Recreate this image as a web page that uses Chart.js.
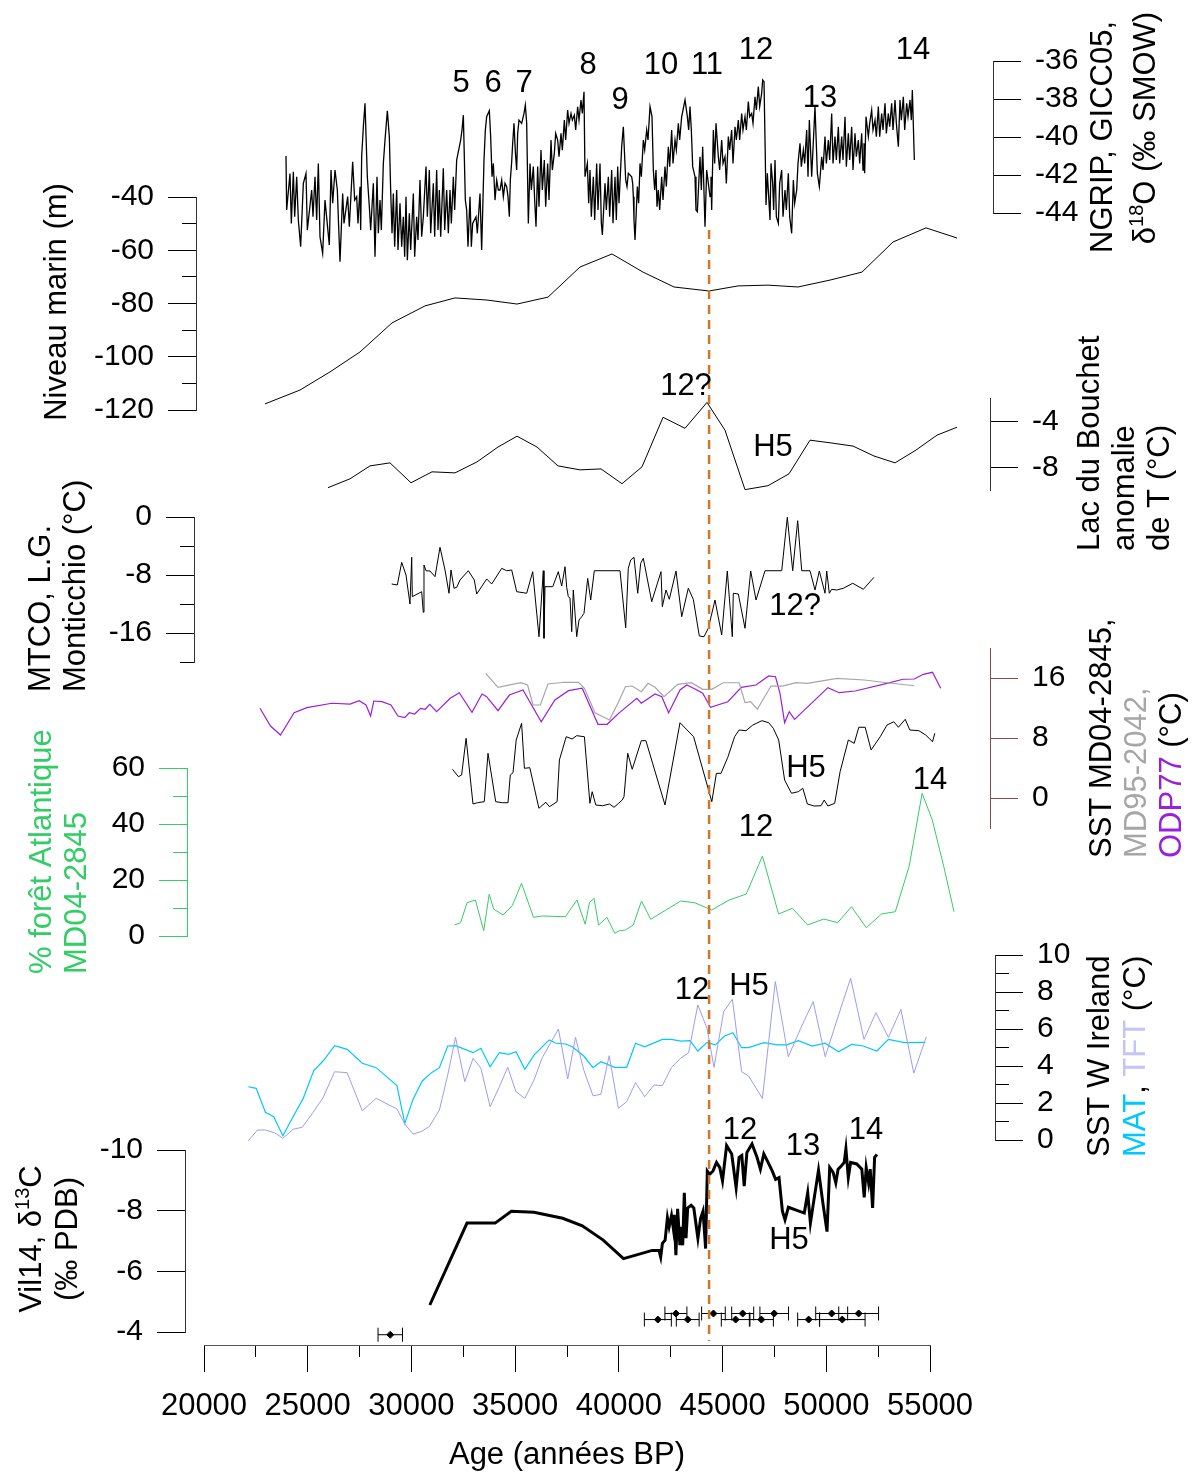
<!DOCTYPE html>
<html>
<head>
<meta charset="utf-8">
<title>Vil14 et enregistrements paléoclimatiques</title>
<script src="https://cdn.jsdelivr.net/npm/chart.js@4"></script>
<style>
  body { margin: 0; background: #fff; }
  canvas { display: block; }
</style>
</head>
<body>
<canvas id="myChart" width="1197" height="1474"></canvas>
<script>
// ---- data (ages in years BP) ----

let ngripAge = [
  23953, 23985, 24146, 24210, 24307, 24371, 24468, 24548, 24660, 24789, 24917, 24981, 25191, 25255, 25351, 25432,
  25512, 25592, 25721, 25833, 26042, 26123, 26203, 26316, 26428, 26492, 26557, 26685, 26749, 26926, 27007, 27167,
  27264, 27360, 27424, 27521, 27553, 27601, 27682, 27762, 27874, 27971, 28035, 28164, 28244, 28340, 28405, 28485,
  28549, 28646, 28726, 28839, 28935, 28999, 29064, 29128, 29192, 29289, 29353, 29449, 29530, 29610, 29674, 29738,
  29803, 29899, 29963, 30092, 30156, 30253, 30317, 30413, 30494, 30574, 30703, 30767, 30863, 30928, 31056, 31120,
  31217, 31281, 31345, 31410, 31538, 31603, 31699, 31779, 31860, 31924, 32020, 32085, 32181, 32294, 32374, 32438,
  32503, 32599, 32663, 32727, 32824, 32888, 32952, 33113, 33177, 33306, 33386, 33499, 33563, 33627, 33756, 33820,
  33885, 33949, 34029, 34110, 34190, 34270, 34351, 34431, 34511, 34592, 34656, 34720, 34768, 34833, 34881, 34945,
  35009, 35074, 35122, 35186, 35315, 35427, 35492, 35556, 35636, 35717, 35781, 35877, 35941, 36006, 36086, 36150,
  36247, 36311, 36407, 36472, 36568, 36632, 36729, 36793, 36889, 36954, 37050, 37115, 37211, 37275, 37372, 37436,
  37532, 37597, 37693, 37757, 37854, 37918, 38014, 38079, 38175, 38239, 38320,
  38368, 38481, 38545, 38609, 38673, 38770, 38834, 38931, 38995, 39091, 39155, 39204, 39332, 39396, 39493, 39557,
  39654, 39718, 39814, 39879, 39943, 40007, 40136, 40216, 40329, 40393, 40457, 40618, 40666, 40698, 40730, 40779,
  40891, 40955, 41020, 41084, 41180, 41245, 41341, 41405, 41502, 41598, 41662, 41727, 41791, 41839, 41903, 41968,
  42064, 42128, 42225, 42289, 42386, 42450, 42546, 42611, 42707, 42771, 42868, 42932, 43028, 43093, 43189, 43302,
  43366, 43430, 43494, 43559, 43671, 43719, 43784, 43912, 43976, 44041, 44153, 44234, 44394, 44442, 44475, 44555,
  44619, 44684, 44796, 44860, 44957, 45021, 45117, 45182, 45278, 45342, 45439, 45503, 45600, 45664, 45760, 45824,
  45921, 45985, 46082, 46146, 46242, 46306, 46403, 46467, 46564, 46628, 46724, 46789, 46885, 46933, 46998, 47062,
  47094, 47158, 47223, 47287, 47335, 47415, 47463, 47528, 47592, 47689, 47753, 47849, 47914, 48010, 48074, 48171,
  48235, 48331, 48412, 48476, 48573, 48637, 48733, 48797, 48894, 48958, 49055, 49119, 49183, 49296, 49456, 49569,
  49665, 49778, 49842, 49938, 50003, 50099, 50163, 50260, 50324, 50420, 50485, 50581, 50645, 50742, 50806, 50903,
  50967, 51063, 51127, 51224, 51288, 51384, 51449, 51545, 51609, 51706, 51770, 51818, 51850, 51915, 52027, 52092,
  52188, 52252, 52349, 52413, 52510, 52574, 52670, 52734, 52831, 52895, 52992, 53056, 53152, 53217, 53313, 53378,
  53474, 53554, 53618, 53715, 53779, 53876, 53940, 54036, 54100, 54149, 54245
];
let ngripD18O = [
  -41.0, -43.84, -41.92, -44.55, -41.83, -44.2, -42.09, -44.37, -45.77, -42.44, -41.92, -44.9, -42.79, -44.2, -42.09, -44.37,
  -41.39, -45.25, -46.12, -43.32, -45.69, -41.74, -43.49, -41.74, -42.79, -44.72, -46.56, -42.97, -44.55, -43.14, -44.72, -41.3,
  -43.32, -43.14, -44.55, -42.62, -44.9, -41.04, -39.46, -38.23, -42.09, -43.67, -44.9, -42.44, -46.3, -42.09, -45.07, -43.32,
  -44.9, -41.39, -40.16, -38.62, -39.99, -42.79, -45.07, -42.97, -45.77, -42.79, -45.95, -43.49, -45.77, -44.2, -46.3, -43.14,
  -46.48, -44.02, -45.95, -42.97, -46.3, -44.2, -45.42, -42.27, -45.25, -44.2, -41.56, -44.2, -41.74, -45.07, -42.44, -45.25,
  -41.74, -44.9, -42.79, -45.25, -41.65, -44.9, -42.79, -45.07, -42.79, -44.55, -42.09, -43.84, -41.21, -40.6, -40.16, -39.63,
  -38.85, -43.32, -43.84, -45.77, -43.14, -45.77, -44.55, -44.2, -45.07, -42.97, -45.95, -41.21, -39.63, -38.93, -38.62, -39.99,
  -42.09, -41.39, -43.32, -42.27, -42.79, -42.79, -42.27, -43.14, -42.44, -42.62, -43.14, -44.2, -42.27, -41.3, -40.34, -39.28,
  -40.77, -41.74, -39.81, -39.11, -39.28, -38.76, -38.32, -39.28, -44.55, -41.39, -42.79, -41.56, -43.32, -44.72, -41.56, -43.67,
  -40.69, -42.79, -41.21, -43.67, -41.39, -43.32, -40.16, -41.74, -40.86, -39.81, -40.16, -41.04, -39.81, -40.69, -39.11, -40.16,
  -38.58, -39.28, -38.76, -39.11, -38.85, -39.63, -38.41, -39.11, -38.06, -38.76, -37.62,
  -42.09, -41.39, -43.49, -41.74, -44.19, -42.09, -44.37, -41.39, -43.84, -41.39, -44.54, -45.16, -42.44, -43.84, -42.09, -44.19,
  -41.74, -44.54, -42.09, -44.37, -41.56, -43.49, -40.51, -39.46, -42.26, -42.61, -41.91, -42.09, -42.44, -43.14, -44.37, -45.42,
  -42.61, -43.49, -41.39, -42.09, -40.16, -40.68, -39.63, -40.16, -38.4, -38.93, -41.74, -42.79, -41.74, -43.67, -42.79, -43.84,
  -42.09, -43.32, -41.56, -42.61, -40.51, -41.56, -39.63, -41.39, -40.16, -40.68, -39.28, -40.16, -38.93, -38.58, -38.05, -38.93,
  -39.63, -38.4, -39.63, -41.56, -42.09, -43.84, -43.93, -41.04, -42.79, -40.51, -44.72, -41.74, -43.14, -42.09, -43.84, -39.63,
  -41.39, -39.28, -41.04, -41.74, -40.16, -41.39, -41.04, -42.44, -39.98, -40.68, -39.63, -41.39, -39.46, -40.16, -39.11, -40.16,
  -38.76, -39.63, -38.93, -39.63, -38.14, -38.93, -38.76, -39.28, -37.88, -38.58, -37.35, -38.4, -37.7, -37.0, -37.09, -41.21,
  -43.58, -41.91, -43.14, -44.37, -41.39, -42.44, -43.84, -41.21, -44.19, -44.54, -42.44, -41.74, -44.19, -42.79, -43.84, -41.91,
  -44.19, -45.07, -42.26, -43.49, -42.79, -41.39, -40.33, -41.56, -40.68, -41.39, -39.63, -42.09, -39.11, -42.09, -38.4, -41.91,
  -42.61, -41.04, -41.74, -39.98, -41.39, -40.16, -41.21, -38.76, -41.39, -39.98, -41.21, -39.46, -41.39, -39.98, -41.21, -38.93,
  -41.56, -39.81, -41.21, -39.46, -41.74, -39.81, -41.04, -40.16, -41.39, -39.81, -41.74, -40.33, -41.91, -38.93, -39.98, -39.28,
  -38.58, -39.63, -39.11, -39.98, -38.4, -39.98, -38.76, -39.63, -38.23, -39.81, -38.76, -39.46, -38.23, -39.63, -38.05, -39.28,
  -40.51, -38.05, -39.11, -37.88, -39.63, -38.23, -38.93, -38.05, -39.11, -37.53, -41.21
];

let seaAge = [22941, 24628, 26075, 27521, 29063, 30655, 32101, 33644, 35090, 36585, 38128, 39670,
  41164, 42659, 44346, 45744, 47190, 48637, 50180, 51722, 53217, 54808, 56302];
let seaLevel = [-117.7, -112.5, -105.7, -98.2, -87.3, -80.9, -77.9, -78.7, -80.2, -77.6, -66.3, -61.4,
  -68.2, -73.8, -75.3, -73.4, -73.1, -73.8, -71.2, -68.2, -56.9, -51.6, -55.4];

let bouchetAge = [25978, 27039, 28003, 28967, 29980, 30992, 32101, 33161, 34174, 35090, 36054, 37067, 38128,
  39140, 40152, 41116, 42129, 43190, 44250, 45118, 46082, 47190, 48203, 49215, 50276, 51288, 52301, 53314,
  54326, 55338, 56302];
let bouchetT = [-9.7, -8.94, -7.83, -7.57, -9.28, -8.34, -8.43, -7.49, -6.21, -5.28, -6.21, -7.83, -8.17,
  -8.09, -9.36, -7.91, -3.66, -4.6, -2.38, -4.77, -9.87, -9.53, -8.51, -5.62, -5.87, -6.13, -6.98, -7.57,
  -6.47, -5.19, -4.51];

let mtcoAge = [29049, 29319, 29531, 29738, 29931, 30013, 30042, 30495, 30572, 30606, 30703, 30895, 31137,
  31378, 31619, 31811, 31908, 32053, 32183, 32342, 32742, 33031, 33147, 33629, 33870, 34352, 34593, 34834,
  35075, 35557, 35847, 36150, 36358, 36391, 36440, 36811, 37081, 37245, 37404, 37486, 37563, 37645, 37727,
  37804, 37968, 38079, 38209, 38320, 38498, 38643, 38816, 40055, 40330, 40455, 40571, 40730, 40909, 41053,
  41179, 41584, 42032, 42095, 42273, 42432, 42755, 43030, 43348, 43589, 43878, 44105, 44312, 44635, 44958,
  45228, 45469, 45518, 45759, 46082, 46356, 46612, 47046, 47851, 48121, 48381, 48622, 48815, 49215, 49456,
  49664, 49939, 50020, 50146, 50261, 50503, 50821, 51274, 51785, 52301];
let mtcoT = [-9.24, -9.38, -6.25, -8.0, -12.0, -5.56, -10.99, -10.3, -13.14, -6.62, -7.41, -7.45, -8.23,
  -4.18, -7.31, -10.52, -7.31, -9.83, -9.7, -8.69, -7.41, -8.69, -10.62, -8.55, -9.24, -7.08, -7.41, -7.31,
  -10.3, -10.52, -7.54, -16.51, -7.41, -16.73, -9.61, -9.61, -7.54, -9.52, -6.86, -9.7, -10.99, -11.17, -15.82,
  -10.07, -16.51, -14.21, -13.75, -13.28, -8.46, -11.45, -7.41, -7.41, -15.27, -7.08, -5.93, -5.56, -10.52, -6.39,
  -5.7, -11.68, -7.54, -12.37, -10.07, -11.35, -7.45, -13.75, -9.83, -11.35, -16.41, -16.51, -15.35, -11.45, -16.28,
  -7.45, -16.51, -10.52, -10.62, -15.35, -7.45, -11.45, -7.41, -7.41, -0.04, -7.41, -0.51, -7.41, -7.41, -10.07,
  -7.45, -10.52, -7.45, -10.52, -9.97, -10.07, -9.83, -9.14, -9.97, -8.32];

let odpAge = [22700, 23206, 23688, 24344, 24961, 26166, 27044, 27482, 27810, 28032, 28186, 28581, 29015, 29348,
  29676, 29898, 30158, 30442, 30664, 30881, 31214, 31869, 32308, 32920, 33402, 33624, 34174, 34723, 35379, 36256,
  36917, 37573, 38233, 38995, 39438, 39988, 40865, 41082, 41743, 42071, 42399, 42948, 43276, 43604, 44042, 44418,
  45252, 45908, 46612, 47224, 47552, 47769, 47991, 48212, 48473, 50078, 50623, 51394, 52927, 53694, 54244, 54677,
  55121, 55516];
let odpSst = [11.96, 9.6, 8.4, 11.37, 12.04, 12.63, 12.53, 12.97, 12.4, 10.93, 12.93, 12.84, 12.4, 10.93, 10.71,
  11.37, 11.2, 11.96, 11.83, 12.49, 11.51, 13.29, 14.04, 11.43, 13.87, 13.51, 11.64, 13.73, 14.4, 10.17, 13.07,
  14.31, 14.63, 9.83, 9.83, 11.29, 13.29, 12.63, 13.87, 13.51, 11.37, 14.4, 15.07, 14.63, 13.96, 12.09, 12.84,
  14.76, 15.07, 16.27, 16.17, 13.96, 10.04, 11.51, 10.49, 14.71, 14.04, 14.27, 15.29, 15.83, 15.87, 16.49, 16.76,
  14.63];

let md95Age = [33581, 34174, 35268, 35601, 35861, 36213, 36584, 37356, 38055, 38339, 38845, 39549, 39988, 40316,
  40643, 41082, 41410, 41743, 42177, 42837, 43497, 44042, 44481, 45031, 45797, 46082, 46347, 46675, 47335, 47885,
  48540, 49090, 50517, 51833, 52927, 54244];
let md95Sst = [16.63, 14.76, 15.37, 15.07, 12.4, 12.4, 15.2, 15.43, 15.43, 14.63, 11.37, 10.4, 12.84, 14.84, 14.93,
  14.17, 15.29, 14.76, 13.51, 15.16, 15.37, 14.49, 14.49, 15.37, 15.37, 12.71, 12.84, 11.83, 14.93, 14.93, 15.37,
  15.29, 15.96, 15.73, 15.37, 14.97];

let md04Age = [31980, 32265, 32419, 32636, 32968, 33185, 33513, 33692, 34063, 34391, 34656, 34767, 34897, 35051,
  35311, 35446, 35707, 36145, 36478, 36652, 37023, 37134, 37462, 37746, 37968, 38339, 38604, 38715, 38889, 39216,
  39549, 39766, 39988, 40161, 40248, 40427, 40643, 41082, 41304, 42225, 42948, 43604, 44481, 44703, 44925, 45252,
  45580, 45797, 46130, 46458, 46896, 47224, 47446, 47706, 47991, 48323, 48651, 48868, 49090, 49418, 49746, 49900,
  50078, 50406, 50666, 51062, 51346, 51568, 51876, 52161, 52600, 52927, 53255, 53477, 53805, 54027, 54465, 54793,
  55121, 55232];
let md04Sst = [3.83, 2.84, 3.07, 7.96, -0.8, -0.63, -0.49, 5.96, -0.49, -0.63, -0.63, 3.07, 3.37, 7.73, 9.96,
  3.96, 4.04, -1.37, -0.57, -1.16, -0.49, 5.07, 8.17, 7.87, 8.31, 8.17, -0.71, 0.84, -0.93, -1.03, -0.8, -1.24,
  -0.71, -0.27, 0.17, 5.96, 3.83, 7.64, 7.64, -0.93, 10.04, 8.17, -0.49, 3.29, 3.29, 5.43, 8.17, 9.07, 8.97, 9.73,
  10.31, 10.04, 9.29, 7.73, 2.4, 0.63, 0.84, 1.29, -0.8, -1.07, -1.03, -0.27, -1.07, -0.71, 3.51, 7.73, 7.29, 9.43,
  9.43, 6.4, 8.17, 9.73, 10.17, 9.43, 10.49, 9.07, 8.97, 8.4, 7.51, 8.63];

let forestAge = [32081, 32371, 32684, 33084, 33484, 33749, 33971, 34420, 34863, 35307, 35885, 36309, 37423, 37978,
  38378, 38580, 38802, 39024, 39424, 39800, 40026, 40316, 40692, 41092, 41535, 42982, 43652, 44476, 45320, 46144,
  46921, 47701, 48367, 49104, 49881, 50546, 51216, 51929, 52662, 53327, 53998, 54620, 55111, 55666, 56158];
let forestPct = [3.93, 4.75, 11.89, 12.86, 1.89, 14.89, 9.54, 7.5, 10.82, 18.82, 6.68, 7.14, 6.89, 12.86, 4.18,
  11.89, 13.46, 3.93, 6.68, 0.96, 1.89, 2.14, 3.93, 12.5, 5.96, 12.5, 11.89, 9.29, 12.86, 15.0, 28.57, 7.86, 9.89,
  3.93, 6.07, 4.75, 10.46, 2.96, 7.86, 8.68, 25.0, 50.96, 41.43, 24.75, 8.68];

let matAge = [22136, 22517, 22960, 23360, 23804, 24295, 24782, 25293, 25742, 26296, 26899, 27632, 28297, 29300,
  29681, 30081, 30524, 30968, 31349, 31749, 32125, 32973, 33349, 33793, 34241, 34685, 35042, 35466, 35909, 36642,
  36975, 37423, 37756, 38310, 38754, 39134, 39800, 40378, 40803, 41246, 42095, 42538, 42982, 43430, 43806, 44250,
  44650, 45098, 45498, 45913, 46255, 46988, 47658, 48102, 48656, 49326, 49948, 50594, 51216, 51770, 52440, 52995,
  53776, 54774];
let matSst = [2.88, 2.79, 1.5, 1.26, 0.23, 1.26, 2.25, 3.75, 4.27, 5.1, 4.9, 4.15, 3.91, 2.94, 0.9, 2.2, 3.19,
  3.64, 3.91, 5.08, 5.1, 4.72, 4.96, 3.96, 4.72, 4.63, 4.77, 3.82, 4.59, 5.41, 5.23, 5.19, 5.04, 4.54, 3.91, 4.23,
  3.93, 3.93, 5.23, 5.04, 5.44, 5.44, 5.35, 5.37, 4.81, 5.28, 5.14, 5.62, 5.8, 4.99, 4.99, 5.26, 5.14, 5.14, 5.37,
  5.08, 5.23, 4.77, 5.17, 5.08, 4.81, 5.44, 5.26, 5.28];

let tftAge = [22136, 22579, 22960, 23404, 23804, 24295, 24739, 25250, 25742, 26296, 26899, 27632, 28297, 29300,
  29681, 30081, 30457, 30857, 31349, 31749, 32125, 32573, 32973, 33349, 33793, 34241, 34641, 35042, 35466, 35909,
  36309, 37086, 37534, 37910, 38310, 38754, 39134, 39535, 39978, 40378, 40803, 41246, 41690, 42095, 42538, 42982,
  43363, 43806, 44250, 44587, 45055, 45474, 45918, 46255, 46921, 47542, 48169, 48767, 49370, 49948, 50594, 51172,
  51819, 52392, 52995, 53597, 54219, 54822];
let tftSst = [-0.04, 0.54, 0.54, 0.39, 0.09, 0.58, 0.69, 1.48, 2.29, 3.69, 3.64, 1.58, 2.25, 1.68, 0.86, 0.32,
  0.45, 0.72, 1.62, 3.51, 5.55, 3.15, 4.42, 3.88, 1.8, 2.88, 3.93, 2.61, 2.25, 3.24, 4.45, 6.0, 3.3, 5.55, 3.78,
  2.39, 2.47, 4.56, 1.71, 2.07, 3.1, 2.34, 2.97, 2.94, 3.93, 4.42, 4.72, 7.3, 6.04, 3.93, 6.94, 7.61, 3.69, 3.46,
  2.25, 8.56, 4.5, 6.04, 7.48, 4.5, 6.76, 8.74, 5.44, 6.88, 5.55, 7.06, 3.61, 5.58];

let vilAge = [30886, 32679, 34034, 34815, 35905, 37293, 38238, 39245, 40224, 41608, 41936, 42017, 42099, 42230,
  42341, 42423, 42538, 42620, 42668, 42750, 42832, 42943, 42996, 43078, 43155, 43237, 43319, 43483, 43613, 43811,
  43941, 44057, 44134, 44182, 44264, 44380, 44539, 44708, 44867, 44997, 45195, 45440, 45653, 45797, 45927, 46043,
  46173, 46419, 46660, 46824, 46988, 47152, 47393, 47557, 47721, 47803, 47885, 48010, 48174, 48940, 49104, 49235,
  49432, 49625, 49837, 50035, 50165, 50329, 50459, 50570, 50734, 50864, 50946, 51062, 51172, 51467, 51713, 51828,
  51925, 52040, 52118, 52233, 52330, 52445];
let vilD13C = [-4.89, -7.59, -7.59, -7.98, -7.95, -7.75, -7.5, -7.03, -6.42, -6.69, -6.69, -6.47, -6.92, -7.03,
  -7.77, -7.47, -7.84, -7.44, -7.86, -6.53, -8.06, -6.86, -7.47, -6.86, -8.59, -7.09, -8.09, -8.18, -8.09, -7.09,
  -7.75, -7.98, -7.25, -6.75, -9.31, -9.2, -9.31, -9.59, -9.42, -8.98, -10.15, -9.87, -8.76, -9.76, -9.82, -8.81,
  -9.92, -10.2, -9.76, -9.37, -9.87, -9.65, -9.31, -9.03, -9.09, -8.53, -7.98, -7.7, -8.11, -7.92, -8.59, -7.59,
  -8.48, -9.33, -8.25, -7.31, -9.42, -9.26, -8.92, -9.37, -9.48, -9.59, -10.04, -9.09, -9.59, -9.54, -9.37, -8.44,
  -9.42, -8.92, -9.37, -8.09, -9.76, -9.85];

// U-Th dates (age, 2 sigma) shown under the Vil14 curve
let datingAge = [28980, 41880, 42750, 43320, 44560, 45630, 45970, 46870, 47490, 49150, 50260, 50770, 51560];
let datingErr = [590, 650, 530, 550, 570, 690, 530, 580, 690, 530, 770, 1100, 960];
let datingY = [-3.91, -4.41, -4.61, -4.41, -4.61, -4.41, -4.61, -4.41, -4.61, -4.41, -4.61, -4.41, -4.61];

let h5Age = 44350;

// tick values
let xTicks = [20000, 25000, 30000, 35000, 40000, 45000, 50000, 55000];
let xMinorTicks = [22500, 27500, 32500, 37500, 42500, 47500, 52500];
let ngripTicks = [-44, -42, -40, -38, -36];
let seaTicks = [-120, -100, -80, -60, -40];
let seaMinorTicks = [-110, -90, -70, -50];
let bouchetTicks = [-8, -4];
let mtcoTicks = [-16, -8, 0];
let mtcoMinorTicks = [-20, -12, -4];
let sstTicks = [0, 8, 16];
let forestTicks = [0, 20, 40, 60];
let forestMinorTicks = [10, 30, 50];
let irelandTicks = [0, 2, 4, 6, 8, 10];
let irelandMinorTicks = [1, 3, 5, 7, 9];

// event labels: text, age, axis, value
let eventLabels = [
  ["5", 32390, "yNgrip", -37.16], ["6", 33933, "yNgrip", -37.16], ["7", 35427, "yNgrip", -37.16],
  ["8", 38513, "yNgrip", -36.26], ["9", 40055, "yNgrip", -38.1], ["10", 42032, "yNgrip", -36.26],
  ["11", 44250, "yNgrip", -36.26], ["12", 46612, "yNgrip", -35.42], ["13", 49697, "yNgrip", -37.95],
  ["14", 54181, "yNgrip", -35.42],
  ["12?", 43237, "yBouchet", -1.02], ["H5", 47431, "yBouchet", -6.21],
  ["12?", 48492, "yMtco", -12.28],
  ["H5", 49022, "ySst", 4.0],
  ["12", 46612, "yForest", 38.6], ["14", 55000, "yForest", 55.7],
  ["12", 43526, "yIreland", 8.11], ["H5", 46274, "yIreland", 8.32],
  ["12", 45840, "yVil", -10.66], ["13", 48878, "yVil", -10.13], ["14", 51915, "yVil", -10.66],
  ["H5", 48203, "yVil", -7.03],
];

// ---- layout and style ----
const FONT = "'Liberation Sans', Arial, sans-serif";
const GREEN = "#33CC66";
const PURPLE = "#9A1FDC";
const GREY = "#A6A6A6";
const CYAN = "#00C8FF";
const LAVENDER = "#9C9CF0";
const SST_AXIS = "#8B4B4B";
const ORANGE = "#D0782A";

// the data scale runs past the drawn axis (55000) so late points are kept
const X_MIN = 20000;
const X_AXIS_MAX = 55000;
const X_DATA_MAX = 56500;

// where each vertical axis sits on the page
const axisPlace = {
  yNgrip: { side: "right", x: 993, top: 61, bottom: 213 },
  ySea: { side: "left", x: 196, top: 197, bottom: 410 },
  yBouchet: { side: "right", x: 990, top: 398, bottom: 490 },
  yMtco: { side: "left", x: 194, top: 517, bottom: 662 },
  ySst: { side: "right", x: 990, top: 648, bottom: 828 },
  yForest: { side: "left", x: 187, top: 768, bottom: 936 },
  yIreland: { side: "right", x: 995, top: 955, bottom: 1140 },
  yVil: { side: "left", x: 185, top: 1150, bottom: 1332 },
};

const titles = [
  { x: 57, y: 302, align: "center", parts: [{ text: "Niveau marin (m)" }] },
  { x: 41, y: 692, parts: [{ text: "MTCO, L.G." }] },
  { x: 76, y: 692, parts: [{ text: "Monticchio (°C)" }] },
  { x: 42, y: 974, parts: [{ text: "% forêt Atlantique", color: GREEN }] },
  { x: 77, y: 974, parts: [{ text: "MD04-2845", color: GREEN }] },
  { x: 32, y: 1239, align: "center", parts: [{ text: "Vil14, δ" }, { text: "13", sup: true }, { text: "C" }] },
  { x: 68, y: 1239, align: "center", parts: [{ text: "(‰ PDB)" }] },
  { x: 1103, y: 137, align: "center", parts: [{ text: "NGRIP, GICC05," }] },
  { x: 1146, y: 128, align: "center", parts: [{ text: "δ" }, { text: "18", sup: true }, { text: "O (‰ SMOW)" }] },
  { x: 1090, y: 551, parts: [{ text: "Lac du Bouchet" }] },
  { x: 1125, y: 551, parts: [{ text: "anomalie" }] },
  { x: 1160, y: 551, parts: [{ text: "de T (°C)" }] },
  { x: 1102, y: 858, parts: [{ text: "SST MD04-2845," }] },
  { x: 1137, y: 858, parts: [{ text: "MD95-2042,", color: GREY }] },
  { x: 1172, y: 858, parts: [{ text: "ODP77", color: PURPLE }, { text: " (°C)" }] },
  { x: 1100, y: 1157, parts: [{ text: "SST W Ireland" }] },
  { x: 1136, y: 1157, parts: [{ text: "MAT", color: CYAN }, { text: ", " }, { text: "TFT", color: "#C4C4FA" }, { text: " (°C)" }] },
];

function series(ages, vals) {
  return ages.map((a, i) => ({ x: a, y: vals[i] }));
}

function lineSet(label, ages, vals, axis, color, width) {
  return {
    label: label,
    data: series(ages, vals),
    xAxisID: "xData",
    yAxisID: axis,
    borderColor: color,
    borderWidth: width || 1,
    pointRadius: 0,
    tension: 0,
    clip: false,
  };
}

function yAxis(side, min, max, tickVals, opts) {
  opts = opts || {};
  return {
    type: "linear",
    position: side,
    min: min,
    max: max,
    reverse: !!opts.reverse,
    bounds: "data",
    afterFit: (s) => { s.width = 0; },
    afterBuildTicks: (s) => { s.ticks = tickVals.map((v) => ({ value: v })); },
    grid: { drawOnChartArea: false, drawTicks: true, tickLength: opts.minor ? 14 : 28, color: opts.color || "#000", lineWidth: 1 },
    border: { display: !opts.minor, color: opts.color || "#333", width: 1 },
    ticks: { display: !opts.minor, padding: 14, color: "#000", font: { family: FONT, size: 30 }, callback: (v) => String(v) },
  };
}

// put every y axis at its own place on the page
const placeAxes = {
  id: "placeAxes",
  afterLayout(chart) {
    for (const id of Object.keys(axisPlace)) {
      const p = axisPlace[id];
      for (const sid of [id, id + "Minor"]) {
        const s = chart.scales[sid];
        if (!s) continue;
        s.top = p.top;
        s.bottom = p.bottom;
        s.height = p.bottom - p.top;
        if (p.side === "left") { s.left = p.x - 150; s.right = p.x; }
        else { s.left = p.x; s.right = p.x + 150; }
        s.width = 150;
        s.configure();
      }
    }
    const xs = chart.scales.x;
    for (const sid of ["xMinor", "xData"]) {
      const s = chart.scales[sid];
      s.left = xs.left;
      s.right = sid === "xData"
        ? xs.left + (xs.right - xs.left) * (X_DATA_MAX - X_MIN) / (X_AXIS_MAX - X_MIN)
        : xs.right;
      s.top = xs.top; s.bottom = xs.bottom;
      s.width = s.right - s.left; s.height = xs.height;
      s.configure();
    }
  },
};

function drawRotated(ctx, x, y, parts, align) {
  ctx.save();
  ctx.translate(x, y);
  ctx.rotate(-Math.PI / 2);
  ctx.textBaseline = "middle";
  ctx.textAlign = "left";
  let widths = parts.map((p) => {
    ctx.font = (p.sup ? "20px " : "31px ") + FONT;
    return ctx.measureText(p.text).width;
  });
  let total = widths.reduce((a, b) => a + b, 0);
  let pos = align === "center" ? -total / 2 : 0;
  parts.forEach((p, i) => {
    ctx.font = (p.sup ? "20px " : "31px ") + FONT;
    ctx.fillStyle = p.color || "#000";
    ctx.fillText(p.text, pos, p.sup ? -9 : 0);
    pos += widths[i];
  });
  ctx.restore();
}

const decorations = {
  id: "decorations",
  afterDatasetsDraw(chart) {
    const ctx = chart.ctx;
    const xs = chart.scales.xData;
    const yv = chart.scales.yVil;

    // dating error bars
    ctx.save();
    ctx.strokeStyle = "#000";
    ctx.lineWidth = 1;
    for (let i = 0; i < datingAge.length; i++) {
      let x0 = xs.getPixelForValue(datingAge[i] - datingErr[i]);
      let x1 = xs.getPixelForValue(datingAge[i] + datingErr[i]);
      let y = yv.getPixelForValue(datingY[i]);
      ctx.beginPath();
      ctx.moveTo(x0, y); ctx.lineTo(x1, y);
      ctx.moveTo(x0, y - 7); ctx.lineTo(x0, y + 7);
      ctx.moveTo(x1, y - 7); ctx.lineTo(x1, y + 7);
      ctx.stroke();
    }
    ctx.restore();

    // H5 dashed line
    let hx = xs.getPixelForValue(h5Age);
    ctx.save();
    ctx.strokeStyle = ORANGE;
    ctx.lineWidth = 2.5;
    ctx.setLineDash([9, 6]);
    ctx.beginPath();
    ctx.moveTo(hx, chart.scales.yNgrip.getPixelForValue(-44.9));
    ctx.lineTo(hx, xs.top - 4);
    ctx.stroke();
    ctx.restore();

    // event labels
    ctx.save();
    ctx.font = "31px " + FONT;
    ctx.fillStyle = "#000";
    ctx.textAlign = "center";
    ctx.textBaseline = "middle";
    for (const [txt, age, axis, val] of eventLabels) {
      ctx.fillText(txt, xs.getPixelForValue(age), chart.scales[axis].getPixelForValue(val));
    }
    ctx.restore();

    // axis titles
    for (const t of titles) drawRotated(ctx, t.x, t.y, t.parts, t.align);
    const xa = chart.scales.x;
    ctx.save();
    ctx.font = "31px " + FONT;
    ctx.fillStyle = "#000";
    ctx.textAlign = "center";
    ctx.textBaseline = "middle";
    ctx.fillText("Age (années BP)", (xa.left + xa.right) / 2, 1455);
    ctx.restore();
  },
};

const ctx = document.getElementById("myChart").getContext("2d");

const myChart = new Chart(ctx, {
  type: "line",
  data: {
    datasets: [
      lineSet("NGRIP δ18O", ngripAge, ngripD18O, "yNgrip", "#000", 1.3),
      lineSet("Niveau marin", seaAge, seaLevel, "ySea", "#000", 1),
      lineSet("Lac du Bouchet", bouchetAge, bouchetT, "yBouchet", "#000", 1),
      lineSet("MTCO Monticchio", mtcoAge, mtcoT, "yMtco", "#000", 1),
      lineSet("SST MD95-2042", md95Age, md95Sst, "ySst", GREY, 1.2),
      lineSet("SST ODP77", odpAge, odpSst, "ySst", PURPLE, 1.2),
      lineSet("SST MD04-2845", md04Age, md04Sst, "ySst", "#000", 1),
      lineSet("% forêt Atlantique", forestAge, forestPct, "yForest", GREEN, 1),
      lineSet("TFT", tftAge, tftSst, "yIreland", LAVENDER, 1),
      lineSet("MAT", matAge, matSst, "yIreland", CYAN, 1.2),
      lineSet("Vil14 δ13C", vilAge, vilD13C, "yVil", "#000", 3),
      {
        type: "scatter",
        label: "U-Th",
        data: series(datingAge, datingY),
        xAxisID: "xData",
        yAxisID: "yVil",
        pointStyle: "rectRot",
        pointRadius: 3.5,
        backgroundColor: "#000",
        borderColor: "#000",
        clip: false,
      },
    ],
  },
  options: {
    responsive: false,
    animation: false,
    layout: { padding: { left: 204, right: 267, top: 0, bottom: 0 } },
    plugins: { legend: { display: false }, tooltip: { enabled: false } },
    scales: {
      x: {
        type: "linear",
        position: "bottom",
        min: X_MIN,
        max: X_AXIS_MAX,
        bounds: "data",
        afterFit: (s) => { s.height = 129; },
        afterBuildTicks: (s) => { s.ticks = xTicks.map((v) => ({ value: v })); },
        grid: { drawOnChartArea: false, tickLength: 27, color: "#000" },
        border: { color: "#555", width: 1 },
        ticks: { padding: 16, maxRotation: 0, autoSkip: false, color: "#000", font: { family: FONT, size: 31 }, callback: (v) => String(v) },
      },
      xMinor: {
        type: "linear",
        position: "bottom",
        min: X_MIN,
        max: X_AXIS_MAX,
        bounds: "data",
        afterFit: (s) => { s.height = 0; },
        afterBuildTicks: (s) => { s.ticks = xMinorTicks.map((v) => ({ value: v })); },
        grid: { drawOnChartArea: false, tickLength: 12, color: "#000" },
        border: { display: false },
        ticks: { display: false },
      },
      xData: {
        type: "linear",
        position: "bottom",
        display: false,
        min: X_MIN,
        max: X_DATA_MAX,
        bounds: "data",
      },
      yNgrip: yAxis("right", -44, -36, ngripTicks),
      ySea: yAxis("left", -120, -40, seaTicks),
      ySeaMinor: yAxis("left", -120, -40, seaMinorTicks, { minor: true }),
      yBouchet: yAxis("right", -9.9, -2.0, bouchetTicks),
      yMtco: yAxis("left", -20, 0, mtcoTicks),
      yMtcoMinor: yAxis("left", -20, 0, mtcoMinorTicks, { minor: true }),
      ySst: yAxis("right", -4, 20, sstTicks, { color: SST_AXIS }),
      yForest: yAxis("left", 0, 60, forestTicks, { color: GREEN }),
      yForestMinor: yAxis("left", 0, 60, forestMinorTicks, { minor: true, color: GREEN }),
      yIreland: yAxis("right", 0, 10, irelandTicks),
      yIrelandMinor: yAxis("right", 0, 10, irelandMinorTicks, { minor: true }),
      yVil: yAxis("left", -10, -4, [-10, -8, -6, -4], { reverse: true }),
    },
  },
  plugins: [placeAxes, decorations],
});
</script>
</body>
</html>
